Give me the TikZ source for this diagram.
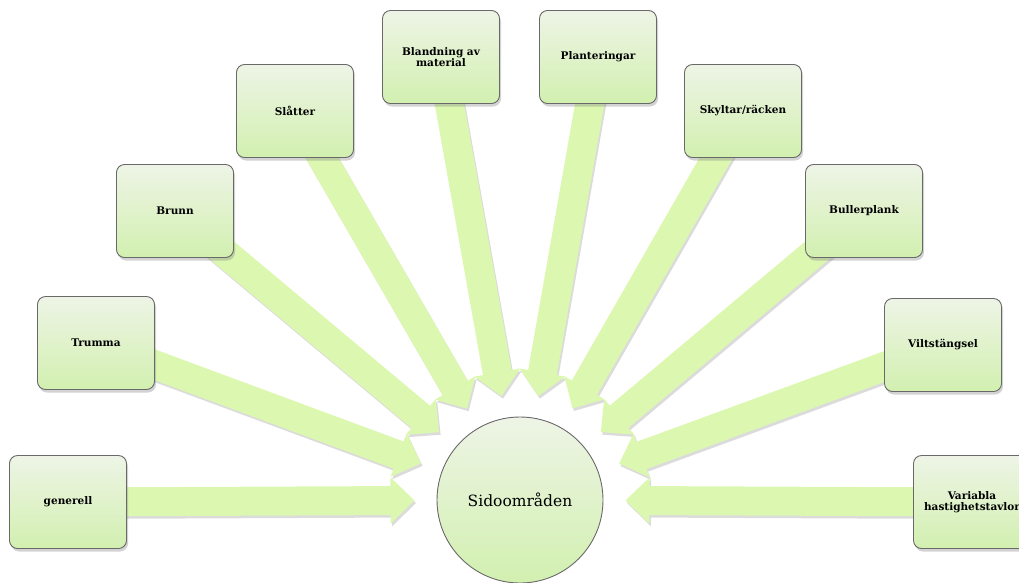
\documentclass[tikz,border=0pt]{standalone}
\usepackage{fontspec}
\setmainfont{DejaVu Serif}
\usetikzlibrary{arrows.meta,shadows,backgrounds}

\definecolor{boxtop}{RGB}{238,244,230}
\definecolor{boxbot}{RGB}{210,240,176}
\definecolor{arrowgreen}{RGB}{220,248,176}
\definecolor{edgegray}{RGB}{105,105,105}

\tikzset{
    topic/.style={draw=edgegray, line width=0.9pt, rounded corners=8pt,
        top color=boxtop, bottom color=boxbot,
        minimum width=117pt, minimum height=93pt, align=center,
        font=\fontsize{10.5}{10.5}\selectfont\bfseries,
        drop shadow={shadow xshift=1.5pt, shadow yshift=-3pt, opacity=0.35}},
    hub/.style={circle, draw=edgegray, line width=0.9pt,
        top color=boxtop, bottom color=boxbot, minimum size=166pt,
        font=\fontsize{15.5}{18}\selectfont},
    feed/.style={line width=29pt, draw=arrowgreen,
        -{Triangle[length=24pt,width=45pt]}, shorten >=22pt},
    feedshade/.style={feed, draw=black!14,
        transform canvas={shift={(1.5pt,-2.5pt)}}}
}

\begin{document}
\begin{tikzpicture}[x=1pt,y=-1pt]
    \useasboundingbox (0,0) rectangle (1019,582);

    % centre
    \node[hub] (sido) at (520,500) {Sidoområden};

    % topics
    \node[topic] (generell) at (68,502) {generell};
    \node[topic] (trumma) at (96,343) {Trumma};
    \node[topic] (brunn) at (175,211) {Brunn};
    \node[topic] (slatter) at (295,111) {Slåtter};
    \node[topic] (blandning) at (441,57) {Blandning av\\material};
    \node[topic] (plantering) at (598,57) {Planteringar};
    \node[topic] (skyltar) at (743,111) {Skyltar/räcken};
    \node[topic] (buller) at (864,211) {Bullerplank};
    \node[topic] (vilt) at (943,345) {Viltstängsel};
    \node[topic] (variabla) at (972,502) {Variabla\\hastighetstavlor};

    % arrows into the centre
    \begin{pgfonlayer}{background}
        \foreach \src in {generell,trumma,brunn,slatter,blandning,plantering,skyltar,buller,vilt,variabla}
            \draw[feedshade] (\src.center) -- (sido);
        \foreach \src in {generell,trumma,brunn,slatter,blandning,plantering,skyltar,buller,vilt,variabla}
            \draw[feed] (\src.center) -- (sido);
    \end{pgfonlayer}
\end{tikzpicture}
\end{document}
